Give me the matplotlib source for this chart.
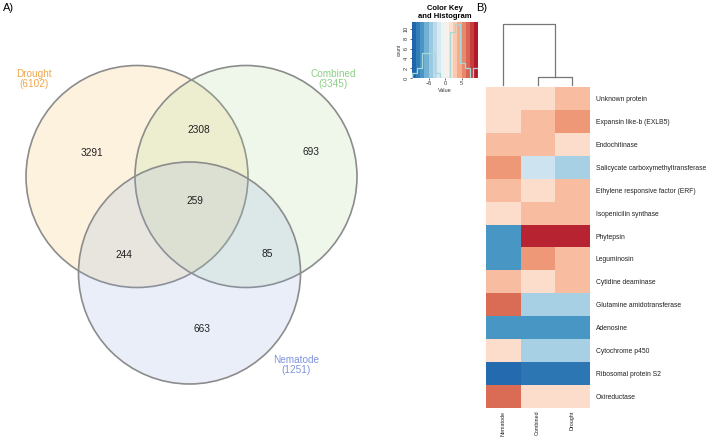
import numpy as np
import matplotlib
matplotlib.use("Agg")
import matplotlib.pyplot as plt
from matplotlib.patches import Circle
from matplotlib.colors import LinearSegmentedColormap, ListedColormap

plt.rcParams['font.family'] = ['Liberation Sans', 'DejaVu Sans']

# Venn data
set_names = ["Drought", "Combined", "Nematode"]
set_totals = [6102, 3345, 1251]
region_names = ["D", "DC", "C", "DCN", "DN", "CN", "N"]
region_counts = [3291, 2308, 693, 259, 244, 85, 663]

genes = ["Unknown protein", "Expansin like-b (EXLB5)", "Endochitinase",
         "Salicycate carboxymethyltransferase", "Ethylene responsive factor (ERF)",
         "Isopenicilin synthase", "Phytepsin", "Leguminosin", "Cytidine deaminase",
         "Glutamine amidotransferase", "Adenosine", "Cytochrome p450",
         "Ribosomal protein S2", "Oxireductase"]
conditions = ["Nematode", "Combined", "Drought"]
nematode = [2.2, 2.2, 3.9, 5.4, 3.9, 2.2, -7.3, -7.3, 3.9, 7.1, -7.3, 2.2, -9.7, 7.1]
combined = [2.2, 3.9, 3.9, -2.6, 2.2, 3.9, 9.6, 5.4, 2.2, -4.1, -7.3, -4.1, -9.0, 2.2]
drought = [3.9, 5.4, 2.2, -4.1, 3.9, 3.9, 9.6, 3.9, 3.9, -4.1, -7.3, -4.1, -9.0, 2.2]

# dendrogram merge heights (Combined+Drought, then with Nematode)
merge_heights = [0.13, 1.0]

# colour key histogram
hist_edges = [-10, -8.5, -7, -3, -1.5, 1.5, 3, 4.5, 6, 7.5, 8.5, 10]
hist_counts = [1, 2, 5, 1, 0, 9.3, 11, 3, 2, 0, 2]

W, H = 708, 437
fig = plt.figure(figsize=(W / 100, H / 100), dpi=100)


def px_axes(x0, y0, x1, y1):
    return fig.add_axes([x0 / W, 1 - y1 / H, (x1 - x0) / W, (y1 - y0) / H])


# ---------------- Venn (A) ----------------
ax = fig.add_axes([0, 0, 1, 1])
ax.set_xlim(0, W)
ax.set_ylim(H, 0)
ax.axis("off")

centers = [(137, 176.5), (246, 176.5), (189.5, 273)]
radius = 111
fills = ["#f9b84a", "#a6d890", "#8ea6e0"]
for c, f in zip(centers, fills):
    ax.add_patch(Circle(c, radius, facecolor=f, alpha=0.18, edgecolor="none"))
    ax.add_patch(Circle(c, radius, facecolor="none", edgecolor="#8c8c8c", lw=1.2))

label_pos = {"D": (92, 153), "DC": (199, 130), "C": (311, 152), "DCN": (195, 201),
             "DN": (124, 255), "CN": (267, 254), "N": (202, 329)}
for name, n in zip(region_names, region_counts):
    x, y = label_pos[name]
    ax.text(x, y, str(n), ha="center", va="center", fontsize=7.3, color="#222222")

set_pos = [(34, 79), (333, 79), (296, 365)]
set_colors = ["#f2a54a", "#8ccf86", "#7f94dc"]
for name, tot, (x, y), col in zip(set_names, set_totals, set_pos, set_colors):
    ax.text(x, y, f"{name}\n({tot})", ha="center", va="center", fontsize=7.2,
            color=col, linespacing=1.0)

ax.text(3, 8, "A)", ha="left", va="center", fontsize=8)
ax.text(476, 8, "B)", ha="left", va="center", fontsize=8)

# ---------------- Heatmap (B) ----------------
rdbu9 = ["#2166ac", "#4393c3", "#92c5de", "#d1e5f0", "#f7f7f7",
         "#fddbc7", "#f4a582", "#d6604d", "#b2182b"]
cmap = LinearSegmentedColormap.from_list("rdbu9", rdbu9)
vmin, vmax = -10, 10

values = np.column_stack([nematode, combined, drought])
hm = px_axes(486, 87, 589, 408)
hm.imshow(values, cmap=cmap, vmin=vmin, vmax=vmax, aspect="auto",
          interpolation="nearest")
hm.yaxis.tick_right()
hm.set_yticks(range(len(genes)))
hm.set_yticklabels(genes, fontsize=4.9, color="#222222")
hm.set_xticks(range(len(conditions)))
hm.set_xticklabels(conditions, rotation=90, fontsize=3.9, va="top", color="#222222")
hm.tick_params(length=0, pad=5)
hm.tick_params(axis="x", pad=2)
for s in hm.spines.values():
    s.set_visible(False)

# dendrogram
dg = px_axes(486, 20, 589, 87)
h1, h2 = merge_heights
dg.plot([1, 1, 2, 2], [0, h1, h1, 0], color="#777777", lw=0.9)
dg.plot([0, 0, 1.5, 1.5], [0, h2, h2, h1], color="#777777", lw=0.9)
dg.set_xlim(-0.5, 2.5)
dg.set_ylim(-2 / 61, 1 + 4 / 61)
dg.axis("off")

# colour key
key = px_axes(412, 22, 478, 78)
nb = 16
band_cmap = ListedColormap(cmap(np.linspace(0, 1, nb)))
bands = np.linspace(vmin, vmax, nb + 1)
key.pcolormesh(bands, [0, 11.4], np.arange(nb).reshape(1, -1), cmap=band_cmap)
key.stairs(hist_counts, hist_edges, color="#a5d9d9", lw=0.9)
key.plot([hist_edges[0], hist_edges[0]], [0, hist_counts[0]], color="#a5d9d9", lw=0.9)
key.set_xlim(vmin, vmax)
key.set_ylim(0, 11.4)
key.set_xticks([-5, 0, 5])
key.set_yticks([0, 2, 4, 6, 8, 10])
key.tick_params(labelsize=4, length=1.5, width=0.5, pad=1, colors="#333333")
for lab in key.get_yticklabels():
    lab.set_rotation(90)
    lab.set_va("center")
key.set_xlabel("Value", fontsize=4, labelpad=1, color="#333333")
key.set_ylabel("count", fontsize=3.5, labelpad=1, color="#333333")
for s in key.spines.values():
    s.set_visible(False)
key.set_title("Color Key\nand Histogram", fontsize=5.5, fontweight="bold",
              pad=3, linespacing=1.1)

fig.savefig("out.png", dpi=100)
